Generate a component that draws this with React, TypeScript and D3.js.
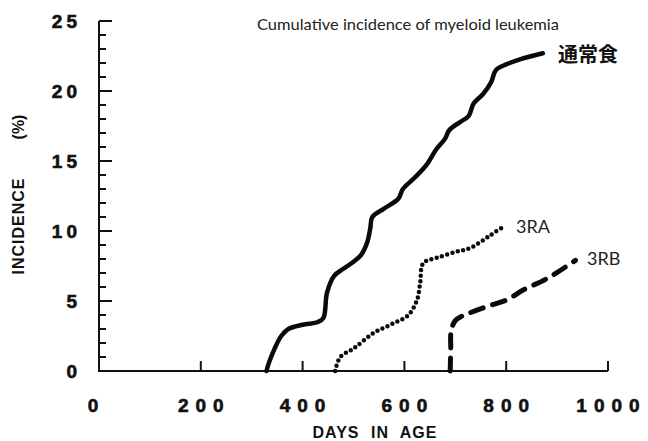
import React from 'react';
import * as d3 from 'd3';

type Pt = { day: number, value: number };

// 通常食 (normal diet)
const normalDays = [329, 334, 345, 358, 372, 400, 430, 441, 448, 462, 480, 500, 515, 527, 533, 537, 560, 588, 597, 620, 645, 662, 680, 688, 710, 726, 736, 755, 770, 780, 800, 830, 872];
const normalVals = [0, 0.6, 1.6, 2.5, 3.0, 3.3, 3.5, 3.8, 5.6, 6.8, 7.3, 7.8, 8.3, 9.2, 10.2, 11.0, 11.6, 12.3, 13.0, 13.8, 14.8, 15.8, 16.6, 17.2, 17.8, 18.2, 19.1, 19.8, 20.6, 21.5, 21.9, 22.3, 22.7];
// 3RA
const raDays = [464, 474, 500, 539, 578, 608, 625, 631, 637, 665, 700, 730, 769, 798];
const raVals = [0, 1.0, 1.6, 2.7, 3.4, 4.0, 5.1, 6.3, 7.7, 8.1, 8.5, 8.8, 9.7, 10.4];
// 3RB
const rbDays = [690, 691, 692, 700, 712, 725, 762, 802, 834, 880, 936];
const rbVals = [0, 1.5, 2.9, 3.6, 3.9, 4.1, 4.6, 5.1, 5.8, 6.6, 7.9];

const xTicks = [0, 200, 400, 600, 800, 1000];
const yTicks = [0, 5, 10, 15, 20, 25];

const zip = (ds: number[], vs: number[]): Pt[] => ds.map((d, i) => ({ day: d, value: vs[i] }));

const W = 648, H = 441;
const boldFont = '"Liberation Sans", Arial, sans-serif';
const thinFont = "Lato, 'Open Sans', sans-serif";

const App = () => {
    const x = d3.scaleLinear().domain([0, 1000]).range([99, 608]);
    const y = d3.scaleLinear().domain([0, 25]).range([371, 21]);

    const line = d3.line<Pt>()
        .x(d => x(d.day))
        .y(d => y(d.value))
        .curve(d3.curveCatmullRom.alpha(0.5));

    const minor = d3.range(0, 26, 1).filter(v => v % 5 !== 0);

    return (
        <div style={{ position: 'absolute', left: 0, top: 0 }}>
            <svg width={W} height={H} style={{ display: 'block', background: '#fff' }}>
                {/* axes */}
                <path d={`M${x(0)},${y(25)}V${y(0)}H${x(1000)}`} fill="none" stroke="#111" strokeWidth={2} />
                {yTicks.map(v => (
                    <line key={'ym' + v} x1={x(0)} x2={x(0) + 13} y1={y(v)} y2={y(v)} stroke="#111" strokeWidth={2} />
                ))}
                {minor.map(v => (
                    <line key={'yn' + v} x1={x(0)} x2={x(0) + 7} y1={y(v)} y2={y(v)} stroke="#111" strokeWidth={2} />
                ))}
                {xTicks.filter(t => t > 0).map(t => (
                    <line key={'xt' + t} x1={x(t)} x2={x(t)} y1={y(0)} y2={y(0) - 10} stroke="#111" strokeWidth={2} />
                ))}
                {/* tick labels */}
                {yTicks.map(v => (
                    <text key={'yl' + v} x={77} y={y(v) + 7} textAnchor="end" fontFamily={boldFont}
                        fontWeight="bold" fontSize={19} fill="#111" stroke="#111" strokeWidth={0.6}
                        style={{ letterSpacing: '4px' }} dx={4}>{v}</text>
                ))}
                {xTicks.map(t => (
                    <text key={'xl' + t} x={t === 0 ? x(t) - 6 : x(t)} y={412} textAnchor="middle" fontFamily={boldFont}
                        fontWeight="bold" fontSize={19} fill="#111" stroke="#111" strokeWidth={0.6} dx={3.5}
                        style={{ letterSpacing: '7px' }}>{t}</text>
                ))}
                <text x={375} y={438} textAnchor="middle" fontFamily={boldFont} fontWeight="bold" fontSize={16}
                    fill="#111" style={{ letterSpacing: '1px', wordSpacing: '6px' }}>DAYS IN AGE</text>
                <text transform="translate(24,226) rotate(-90)" textAnchor="middle" fontFamily={boldFont}
                    fontWeight="bold" fontSize={16} fill="#111" style={{ letterSpacing: '1px' }}>INCIDENCE</text>
                <text transform="translate(24,127) rotate(-90)" textAnchor="middle" fontFamily={boldFont}
                    fontWeight="bold" fontSize={16} fill="#111">(%)</text>
                {/* title */}
                <text x={257} y={30} fontFamily={thinFont} fontSize={15} fill="#222"
                    textLength={302} lengthAdjust="spacingAndGlyphs">
                    Cumulative incidence of myeloid leukemia
                </text>
                {/* series */}
                <path d={line(zip(normalDays, normalVals)) || ''} fill="none" stroke="#0a0a0a" strokeWidth={4.5}
                    strokeLinecap="round" strokeLinejoin="round" />
                <path d={line(zip(raDays, raVals)) || ''} fill="none" stroke="#0a0a0a" strokeWidth={4.5}
                    strokeLinecap="round" strokeDasharray="0 5.5" />
                <path d={line(zip(rbDays, rbVals)) || ''} fill="none" stroke="#0a0a0a" strokeWidth={5}
                    strokeLinecap="round" strokeDasharray="13 10" />
                {/* series labels */}
                <text x={558} y={62} fontFamily='"Noto Sans CJK JP", sans-serif' fontWeight="bold" fontSize={20}
                    fill="#111">通常食</text>
                <text x={516} y={233} fontFamily={thinFont} fontSize={18} fill="#222">3RA</text>
                <text x={587} y={265} fontFamily={thinFont} fontSize={18} fill="#222">3RB</text>
            </svg>
        </div>
    );
};

export default App;
